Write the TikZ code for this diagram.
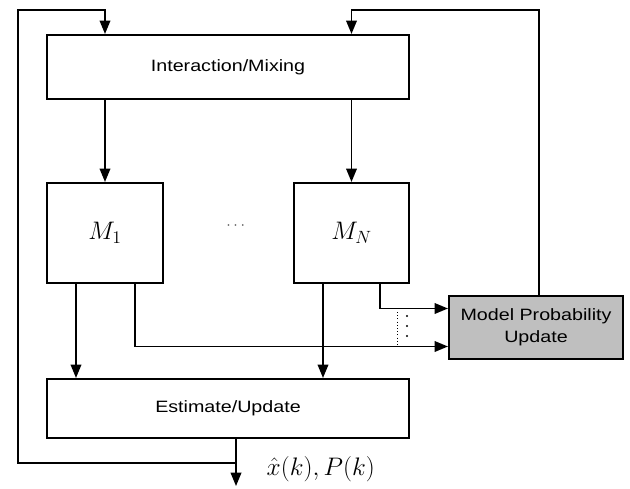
\RequirePackage{fix-cm}
\documentclass[tikz,border=0pt]{standalone}
\usepackage{amsmath}
\usepackage{fontspec}
\newfontfamily\boxfont[FakeStretch=1.2]{Liberation Sans}
\usetikzlibrary{arrows.meta,calc}

\begin{document}
\begin{tikzpicture}[x=0.75pt, y=-0.75pt,
	blk/.style 2 args={draw, line width=1.6pt, minimum width=#1, minimum height=#2, inner sep=0pt, align=center, font=\boxfont\fontsize{12.3}{16.5}\selectfont},
	conn/.style={line width=1.1pt, -{Triangle[length=10pt, width=8pt]}},
	lbl/.style={font=\fontsize{19}{22}\selectfont}]
	\useasboundingbox (0,0) rectangle (630,488);

	\node[blk={271.5pt}{48pt}] (mix) at (228,67) {Interaction/Mixing};
	\node[blk={87pt}{75pt}, lbl] (mone) at (105,233) {$M_1$};
	\node[blk={86.25pt}{75pt}, lbl] (mn) at (351.5,233) {$M_N$};
	\node[font=\fontsize{12}{14}\selectfont, text=black!70] (dots) at (237,226) {$\cdots$};
	\node[blk={130.5pt}{47.25pt}, fill=gray!50] (mpu) at (536,327.5) {Model Probability\\Update};
	\node[blk={271.5pt}{44.25pt}] (est) at (228,408.5) {Estimate/Update};
	\node[lbl, anchor=west] (xk) at (262,469) {$\hat{x}(k), P(k)$};

	\coordinate (topl) at (18,10);
	\coordinate (topr) at (539,10);
	\coordinate (loopb) at (18,463);
	\coordinate (out) at (236,486);
	\coordinate (o11) at ($(mone.south)+(-29,0)$);
	\coordinate (o12) at ($(mone.south)+(30,0)$);
	\coordinate (o21) at ($(mn.south)+(-28.5,0)$);
	\coordinate (o22) at ($(mn.south)+(28.5,0)$);
	\coordinate (inA) at ($(mpu.west)+(0,-19)$);
	\coordinate (inB) at ($(mpu.west)+(0,19)$);
	\coordinate (dt) at (397,312);

	\draw[conn] (mix.south -| mone.north) -- (mone.north);
	\draw[conn] (mix.south -| mn.north) -- (mn.north);
	\draw[conn] (o11) -- (o11 |- est.north);
	\draw[conn] (o21) -- (o21 |- est.north);
	\draw[conn] (o12) |- (inB);
	\draw[conn] (o22) |- (inA);
	\draw[conn] (est.south -| out) -- (out);
	\draw[conn] (loopb -| out) -- (loopb) -- (topl) -| (mix.north -| mone.north);
	\draw[conn] (mpu.north -| topr) -- (topr) -| (mix.north -| mn.north);
	\draw[dotted, thin] (dt) -- (dt |- inB);
	\foreach \y in {316, 326, 336}
		\fill (407,\y) circle [radius=1.2];
\end{tikzpicture}
\end{document}
